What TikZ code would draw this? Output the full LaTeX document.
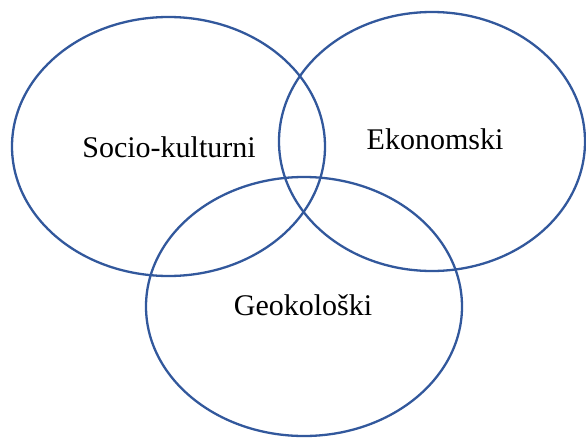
\documentclass[tikz,border=0pt]{standalone}
\usepackage{fontspec}
\setmainfont{Liberation Serif}
\definecolor{ringblue}{RGB}{50,88,156}
\begin{document}
\begin{tikzpicture}[x=1pt,y=-1pt,
  ring/.style={draw=ringblue,line width=2.3pt},
  lbl/.style={anchor=base,inner sep=0pt,font=\fontsize{30}{34}\selectfont}]
\useasboundingbox (0,0) rectangle (586,439);
\draw[ring] (168.5,146.5) ellipse [x radius=156.5,y radius=129.5];
\draw[ring] (432,141.5) ellipse [x radius=153,y radius=129.5];
\draw[ring] (304,306.5) ellipse [x radius=158,y radius=129.5];
\node[lbl] (soc) at (169,157) {Socio-kulturni};
\node[lbl] (eko) at (435,149.5) {Ekonomski};
\node[lbl] (geo) at (303,315) {Geokološki};
\end{tikzpicture}
\end{document}
